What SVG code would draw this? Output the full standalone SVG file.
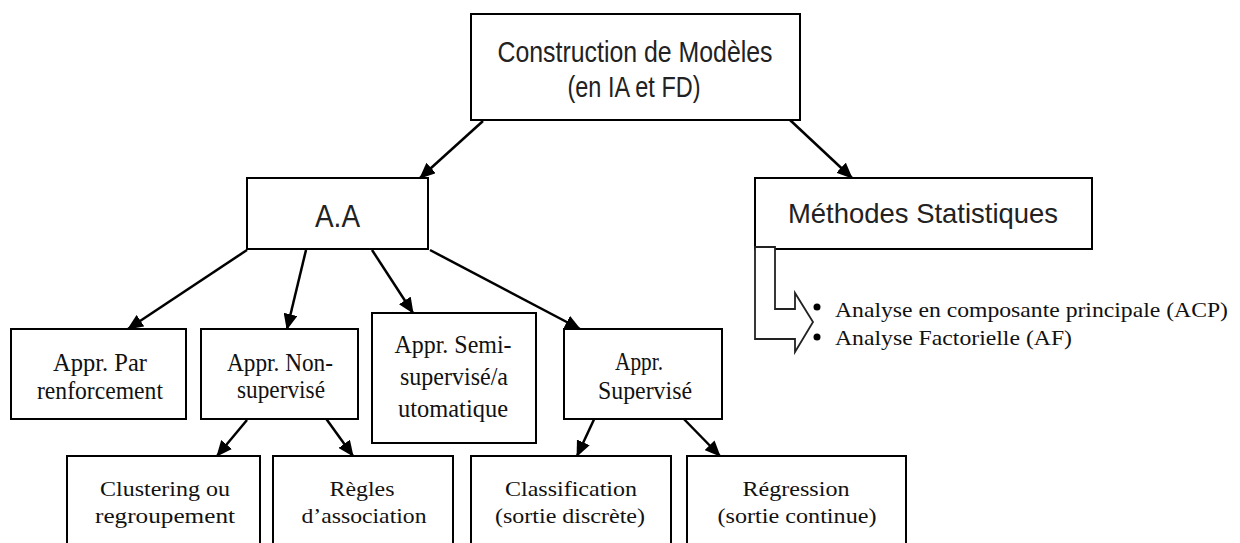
<svg xmlns="http://www.w3.org/2000/svg" width="1240" height="543" viewBox="0 0 1240 543">
<defs>
<marker id="ah" markerUnits="userSpaceOnUse" markerWidth="16" markerHeight="14" refX="15" refY="7" orient="auto">
<path d="M0,0 L16,7 L0,14 Z" fill="#000"/>
</marker>
<style>
.box{fill:#fff;stroke:#000;stroke-width:2}
.sans{font-family:"Liberation Sans","Open Sans",sans-serif;fill:#222;text-anchor:middle}
.serif{font-family:"Liberation Serif","DejaVu Serif",serif;fill:#111;text-anchor:middle;font-size:25px}
.serif2{font-family:"Liberation Serif","DejaVu Serif",serif;fill:#111;text-anchor:middle;font-size:22px}
.bul{font-family:"Liberation Serif","DejaVu Serif",serif;fill:#111;font-size:21px}
.conn{stroke:#000;stroke-width:2.5;fill:none;marker-end:url(#ah)}
</style>
</defs>
<rect width="1240" height="543" fill="#fff"/>
<g id="connectors">
<line class="conn" x1="483" y1="121" x2="420" y2="178"/>
<line class="conn" x1="790" y1="120" x2="852" y2="178"/>
<line class="conn" x1="247" y1="250" x2="128" y2="329"/>
<line class="conn" x1="306" y1="250" x2="287" y2="329"/>
<line class="conn" x1="372" y1="250" x2="413" y2="313"/>
<line class="conn" x1="430" y1="250" x2="580" y2="329"/>
<line class="conn" x1="247" y1="420" x2="217" y2="456"/>
<line class="conn" x1="322" y1="413" x2="353" y2="456"/>
<line class="conn" x1="597" y1="413" x2="577" y2="456"/>
<line class="conn" x1="678" y1="413" x2="720" y2="456"/>
</g>
<g id="n-top">
<rect class="box" x="471" y="14" width="329" height="106"/>
<text class="sans" x="635" y="62" font-size="29" textLength="275" lengthAdjust="spacingAndGlyphs">Construction de Modèles</text>
<text class="sans" x="634" y="97" font-size="29" textLength="133" lengthAdjust="spacingAndGlyphs">(en IA et FD)</text>
</g>
<g id="n-aa">
<rect class="box" x="247" y="178" width="181" height="71"/>
<text class="sans" x="337.5" y="227" font-size="32" textLength="45" lengthAdjust="spacingAndGlyphs">A.A</text>
</g>
<g id="n-stat">
<rect class="box" x="755" y="178" width="337" height="71"/>
<text class="sans" x="923" y="223" font-size="28" textLength="270" lengthAdjust="spacingAndGlyphs">Méthodes Statistiques</text>
</g>
<g id="n-stat-list">
<path d="M755,247 L775,247 L775,309 L795,309 L795,293 L813,322 L795,352 L795,339 L755,339 Z" fill="#fff" stroke="#222" stroke-width="1.8"/>
<circle cx="817" cy="307" r="3.5" fill="#000"/>
<circle cx="817" cy="337" r="3.5" fill="#000"/>
<text class="bul" x="835" y="317" textLength="393" lengthAdjust="spacingAndGlyphs">Analyse en composante principale (ACP)</text>
<text class="bul" x="835" y="345" textLength="237" lengthAdjust="spacingAndGlyphs">Analyse Factorielle (AF)</text>
</g>
<g id="n-renf">
<rect class="box" x="11" y="329" width="175" height="90"/>
<text class="serif" x="100" y="371" textLength="94" lengthAdjust="spacingAndGlyphs">Appr. Par</text>
<text class="serif" x="100" y="399" textLength="126" lengthAdjust="spacingAndGlyphs">renforcement</text>
</g>
<g id="n-nonsup">
<rect class="box" x="201" y="329" width="157" height="90"/>
<text class="serif" x="280" y="371" textLength="106" lengthAdjust="spacingAndGlyphs">Appr. Non-</text>
<text class="serif" x="281" y="398" textLength="88" lengthAdjust="spacingAndGlyphs">supervisé</text>
</g>
<g id="n-semi">
<rect class="box" x="372" y="313" width="164" height="130"/>
<text class="serif" x="453" y="353" textLength="117" lengthAdjust="spacingAndGlyphs">Appr. Semi-</text>
<text class="serif" x="454" y="385" textLength="108" lengthAdjust="spacingAndGlyphs">supervisé/a</text>
<text class="serif" x="453" y="417" textLength="110" lengthAdjust="spacingAndGlyphs">utomatique</text>
</g>
<g id="n-sup">
<rect class="box" x="564" y="329" width="158" height="90"/>
<text class="serif" x="639" y="370" textLength="48" lengthAdjust="spacingAndGlyphs">Appr.</text>
<text class="serif" x="645" y="399" textLength="94" lengthAdjust="spacingAndGlyphs">Supervisé</text>
</g>
<g id="n-clust">
<rect class="box" x="67" y="456" width="193" height="110"/>
<text class="serif2" x="165" y="496" textLength="130" lengthAdjust="spacingAndGlyphs">Clustering ou</text>
<text class="serif2" x="165" y="523" textLength="140" lengthAdjust="spacingAndGlyphs">regroupement</text>
</g>
<g id="n-regles">
<rect class="box" x="273" y="456" width="180" height="110"/>
<text class="serif2" x="362" y="496" textLength="65" lengthAdjust="spacingAndGlyphs">Règles</text>
<text class="serif2" x="364" y="523" textLength="125" lengthAdjust="spacingAndGlyphs">d’association</text>
</g>
<g id="n-classif">
<rect class="box" x="471" y="456" width="200" height="110"/>
<text class="serif2" x="571" y="496" textLength="132" lengthAdjust="spacingAndGlyphs">Classification</text>
<text class="serif2" x="570" y="523" textLength="150" lengthAdjust="spacingAndGlyphs">(sortie discrète)</text>
</g>
<g id="n-regr">
<rect class="box" x="687" y="456" width="219" height="110"/>
<text class="serif2" x="796" y="496" textLength="107" lengthAdjust="spacingAndGlyphs">Régression</text>
<text class="serif2" x="797" y="523" textLength="159" lengthAdjust="spacingAndGlyphs">(sortie continue)</text>
</g>
</svg>
